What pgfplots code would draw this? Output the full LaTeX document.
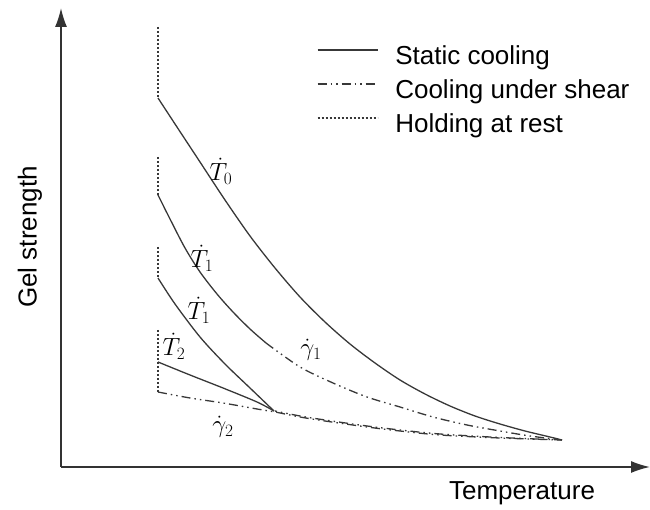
\documentclass[border=0pt]{standalone}
\usepackage{pgfplots}
\pgfplotsset{compat=1.18}
\usepackage{fontspec}
\setmainfont{Liberation Sans}
\usetikzlibrary{arrows.meta}

\tikzset{
  static/.style={line width=1.3pt, draw=black!78},
  shear/.style={line width=1.3pt, draw=black!78, dash pattern=on 9pt off 4pt on 1.5pt off 4pt on 1.5pt off 4pt},
  rest/.style={line width=1.3pt, draw=black!78, dash pattern=on 2pt off 2pt},
}

\begin{document}
\begin{tikzpicture}
\useasboundingbox (0pt,0pt) rectangle (650pt,510pt);
\begin{axis}[
  at={(61pt,43pt)}, anchor=south west,
  scale only axis, width=589pt, height=459pt,
  xmin=61, xmax=650, ymin=43, ymax=502,
  axis lines=left,
  axis line style={line width=1.6pt, draw=black!80, -{Latex[length=19pt,width=12pt]}},
  xtick=\empty, ytick=\empty,
  clip=false,
  legend cell align=left,
  legend image code/.code={\draw[#1] (0pt,9pt) -- (60pt,9pt); \path (77pt,9pt);},
  legend style={at={(axis cs:317,463)}, anchor=north west, draw=none, fill=none,
    inner sep=0pt, outer sep=0pt, row sep=10pt,
    nodes={inner sep=0pt, text height=18pt, text depth=6pt},
    font=\fontsize{26}{30}\selectfont},
]
\addlegendimage{static}
\addlegendentry{Static cooling}
\addlegendimage{shear}
\addlegendentry{Cooling under shear}
\addlegendimage{rest}
\addlegendentry{Holding at rest}

% T0
\addplot[rest, forget plot] coordinates {(158,483) (158,412)};
\addplot[static, smooth, forget plot] coordinates {
  (158,412) (175,386) (200,348) (225,310) (250,274) (275,242) (300,213)
  (325,188) (350,166) (375,147) (400,130) (425,116) (450,104) (475,94)
  (500,86) (525,79) (550,73) (562,70)};

% T1 (upper), then shear gamma1
\addplot[rest, forget plot] coordinates {(158,353) (158,315)};
\addplot[static, smooth, forget plot] coordinates {
  (158,315) (170,291) (185,262) (200,238) (217,216) (233,198) (250,181) (266,167)};
\addplot[shear, smooth, forget plot] coordinates {
  (266,167) (300,143) (333,127) (367,113) (400,103) (433,93) (467,85)
  (500,79) (530,74) (562,70)};

% T1 (lower)
\addplot[rest, forget plot] coordinates {(158,263) (158,232)};
\addplot[static, smooth, forget plot] coordinates {
  (158,232) (175,206) (200,173) (225,146) (250,122) (274,99)};

% T2, then shear gamma2
\addplot[rest, forget plot] coordinates {(158,180) (158,118)};
\addplot[static, smooth, forget plot] coordinates {
  (158,148) (190,135) (223,122) (257,108) (274,99)};
\addplot[shear, smooth, forget plot] coordinates {
  (158,118) (190,112) (223,107) (257,101) (275,98) (300,93) (325,89)
  (367,83) (400,79) (440,75) (500,72) (562,70)};
\addplot[shear, smooth, forget plot, dash phase=7pt] coordinates {
  (275,99) (300,94) (325,90) (367,84) (400,80) (440,76) (500,72.5) (562,70)};

% curve labels
\node[font=\fontsize{27}{30}\selectfont] at (axis cs:221,339) {$\dot{T}_{0}$};
\node[font=\fontsize{27}{30}\selectfont] at (axis cs:202,252) {$\dot{T}_{1}$};
\node[font=\fontsize{27}{30}\selectfont] at (axis cs:199,200) {$\dot{T}_{1}$};
\node[font=\fontsize{27}{30}\selectfont] at (axis cs:174,164) {$\dot{T}_{2}$};
\node[font=\fontsize{27}{30}\selectfont] at (axis cs:311,160) {$\dot{\gamma}_{1}$};
\node[font=\fontsize{27}{30}\selectfont] at (axis cs:223,83) {$\dot{\gamma}_{2}$};

% axis titles
\node[rotate=90, font=\fontsize{26}{30}\selectfont] at (axis cs:30,273) {Gel strength};
\node[font=\fontsize{26}{30}\selectfont] at (axis cs:522,17) {Temperature};
\end{axis}
\end{tikzpicture}
\end{document}
